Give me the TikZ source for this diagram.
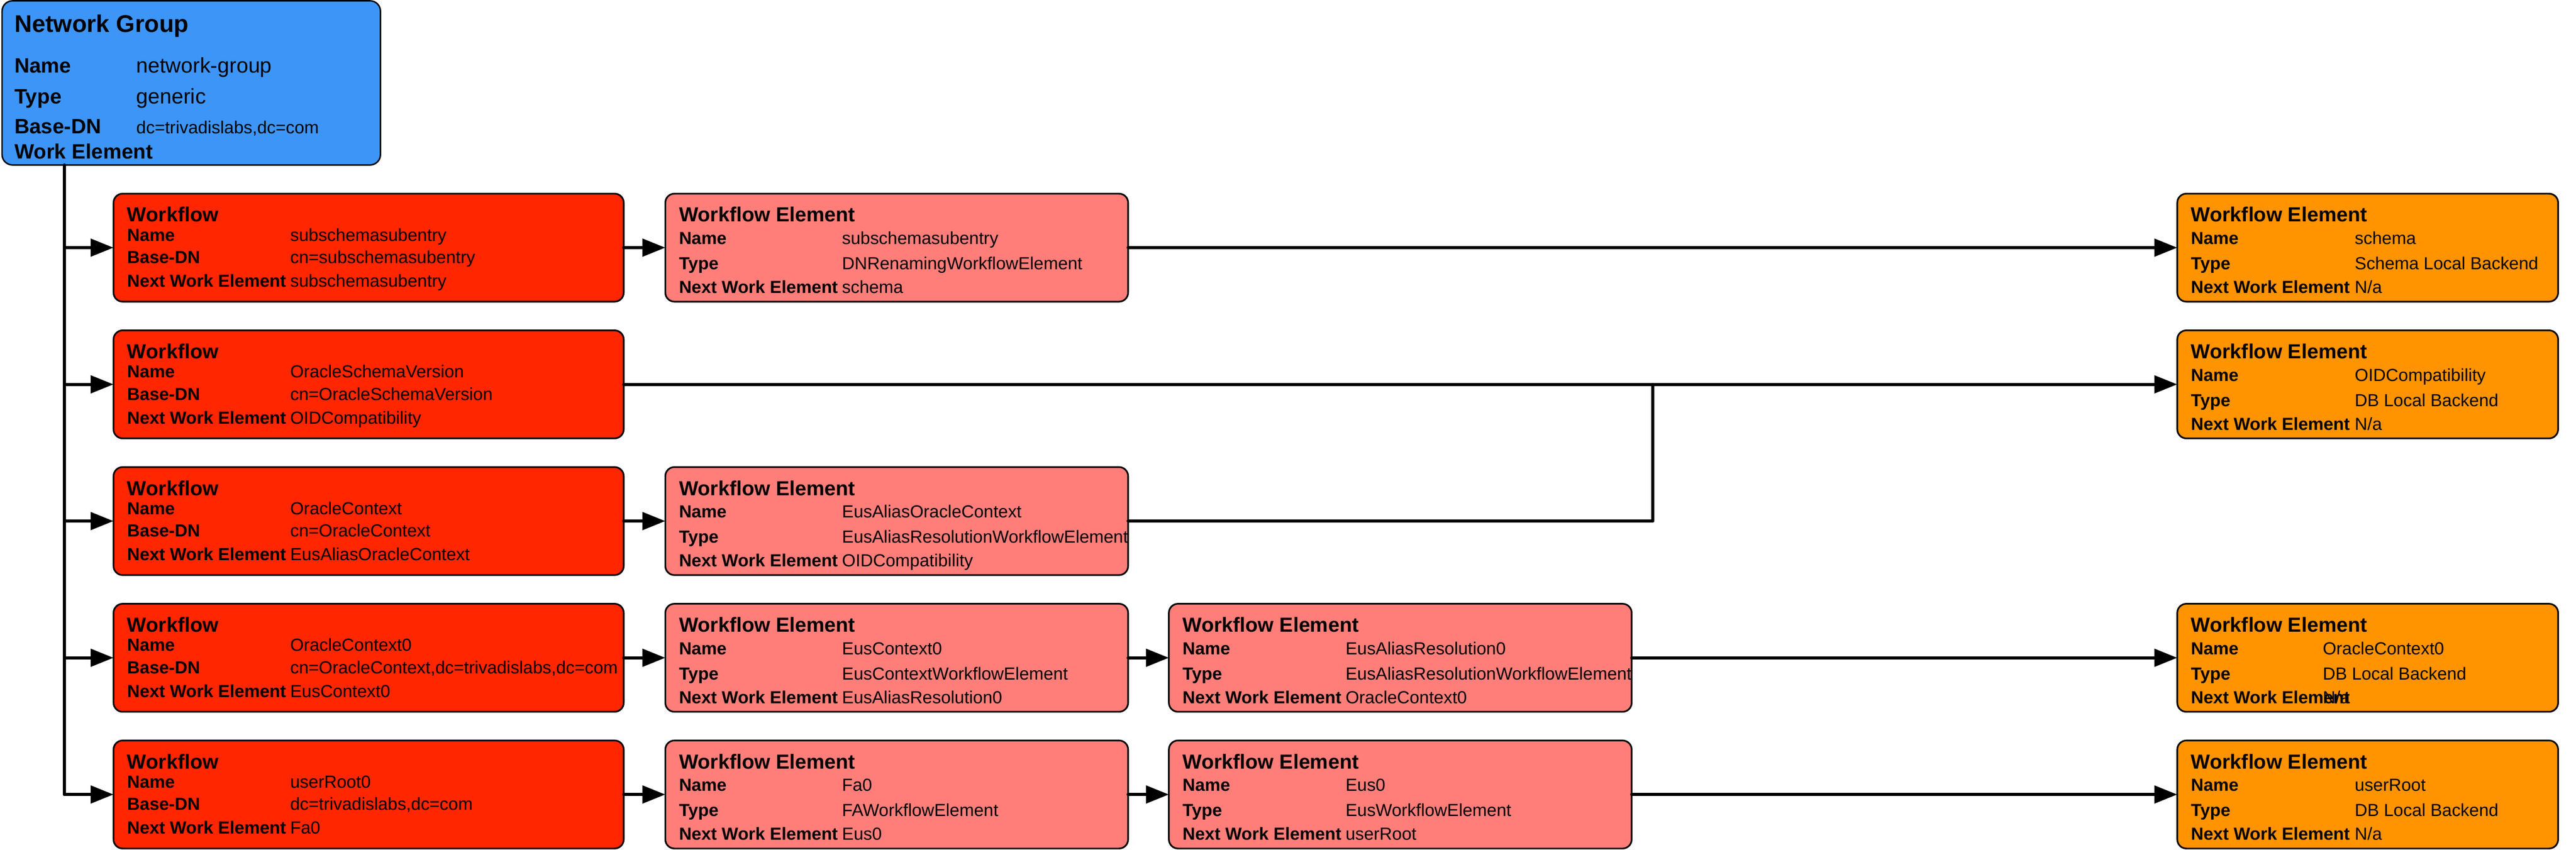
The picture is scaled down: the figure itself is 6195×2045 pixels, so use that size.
\documentclass[tikz,border=0pt]{standalone}
\usepackage{fontspec}
\setmainfont{Liberation Sans}
\usetikzlibrary{arrows.meta}
\definecolor{ngblue}{RGB}{61,149,247}
\definecolor{wfred}{RGB}{255,38,0}
\definecolor{wepink}{RGB}{255,126,121}
\definecolor{weorange}{RGB}{255,147,0}
\tikzset{
 box/.style={draw=black, line width=4pt, rounded corners=22pt, inner sep=0pt, outer sep=0pt, anchor=north west, minimum height=260pt},
 wfbox/.style={box, fill=wfred, minimum width=1227pt},
 pkbox/.style={box, fill=wepink, minimum width=1113pt},
 orbox/.style={box, fill=weorange, minimum width=916pt},
 txt/.style={inner sep=0pt, outer sep=0pt, anchor=base west},
 ttl/.style={txt, font=\fontsize{49}{59}\selectfont\bfseries},
 lab/.style={txt, font=\fontsize{42}{50}\selectfont\bfseries},
 val/.style={txt, font=\fontsize{42}{50}\selectfont},
 conn/.style={line width=7.5pt, line cap=round, line join=round},
 arr/.style={conn, -{Triangle[length=55pt,width=42pt]}},
}
\newcommand\wtitle[2]{\node[ttl] (#1-t) at ([shift={(33,68)}]#1.north west) {#2};}
\newcommand\wrow[6]{%
 \node[lab] (#1-l#2) at ([shift={(33,#3)}]#1.north west) {#5};
 \node[val] (#1-v#2) at ([shift={(#4,#3)}]#1.north west) {#6};}
\newcommand\wfnode[6]{%
 \node[wfbox] (#1) at (#2,#3) {};
 \wtitle{#1}{Workflow}
 \wrow{#1}{1}{114}{425}{Name}{#4}
 \wrow{#1}{2}{168}{425}{Base-DN}{#5}
 \wrow{#1}{3}{225}{425}{Next Work Element}{#6}}
\newcommand\wenode[8]{%
 \node[#2] (#1) at (#3,#4) {};
 \wtitle{#1}{Workflow Element}
 \wrow{#1}{1}{122}{#8}{Name}{#5}
 \wrow{#1}{2}{183}{#8}{Type}{#6}
 \wrow{#1}{3}{240}{#8}{Next Work Element}{#7}}
\begin{document}
\begin{tikzpicture}[x=1pt,y=-1pt]
\useasboundingbox (0,0) rectangle (6195,2045);
% network group
\node[box, fill=ngblue, minimum width=910pt, minimum height=395pt, line width=3.5pt, rounded corners=25pt] (ng) at (5,2) {};
\node[txt, font=\fontsize{58}{70}\selectfont\bfseries] (ng-t) at (35,78) {Network Group};
\node[txt, font=\fontsize{50}{60}\selectfont\bfseries] (ng-l1) at (35,175) {Name};
\node[txt, font=\fontsize{50}{60}\selectfont\bfseries] (ng-l2) at (35,250) {Type};
\node[txt, font=\fontsize{50}{60}\selectfont\bfseries] (ng-l3) at (35,321) {Base-DN};
\node[txt, font=\fontsize{50}{60}\selectfont\bfseries] (ng-l4) at (35,382) {Work Element};
\node[txt, font=\fontsize{51}{61}\selectfont] (ng-v1) at (328,175) {network-group};
\node[txt, font=\fontsize{51}{61}\selectfont] (ng-v2) at (328,250) {generic};
\node[txt, font=\fontsize{42}{50}\selectfont] (ng-v3) at (328,321) {dc=trivadislabs,dc=com};
% row 1
\wfnode{wf1}{273}{466}{subschemasubentry}{cn=subschemasubentry}{subschemasubentry}
\wenode{pa1}{pkbox}{1600}{466}{subschemasubentry}{DNRenamingWorkflowElement}{schema}{425}
\wenode{or1}{orbox}{5236}{466}{schema}{Schema Local Backend}{N/a}{427}
% row 2
\wfnode{wf2}{273}{795}{OracleSchemaVersion}{cn=OracleSchemaVersion}{OIDCompatibility}
\wenode{or2}{orbox}{5236}{795}{OIDCompatibility}{DB Local Backend}{N/a}{427}
% row 3
\wfnode{wf3}{273}{1124}{OracleContext}{cn=OracleContext}{EusAliasOracleContext}
\wenode{pa3}{pkbox}{1600}{1124}{EusAliasOracleContext}{EusAliasResolutionWorkflowElement}{OIDCompatibility}{425}
% row 4
\wfnode{wf4}{273}{1453}{OracleContext0}{cn=OracleContext,dc=trivadislabs,dc=com}{EusContext0}
\wenode{pa4}{pkbox}{1600}{1453}{EusContext0}{EusContextWorkflowElement}{EusAliasResolution0}{425}
\wenode{pb4}{pkbox}{2811}{1453}{EusAliasResolution0}{EusAliasResolutionWorkflowElement}{OracleContext0}{425}
\wenode{or4}{orbox}{5236}{1453}{OracleContext0}{DB Local Backend}{N/a}{350}
% row 5
\wfnode{wf5}{273}{1782}{userRoot0}{dc=trivadislabs,dc=com}{Fa0}
\wenode{pa5}{pkbox}{1600}{1782}{Fa0}{FAWorkflowElement}{Eus0}{425}
\wenode{pb5}{pkbox}{2811}{1782}{Eus0}{EusWorkflowElement}{userRoot}{425}
\wenode{or5}{orbox}{5236}{1782}{userRoot}{DB Local Backend}{N/a}{427}
% trunk
\coordinate (tb) at (155,1912);
\coordinate (jx) at (3975,925);
\draw[conn] (ng.south -| tb) -- (tb);
\foreach \r in {1,...,5} \draw[arr] (wf\r.west -| tb) -- (wf\r.west);
% connectors
\draw[arr] (wf1.east) -- (pa1.west);
\draw[arr] (pa1.east) -- (or1.west);
\draw[arr] (wf2.east) -- (or2.west);
\draw[arr] (wf3.east) -- (pa3.west);
\draw[conn] (pa3.east) -- (pa3.east -| jx) -- (jx |- wf2.east);
\draw[arr] (wf4.east) -- (pa4.west);
\draw[arr] (pa4.east) -- (pb4.west);
\draw[arr] (pb4.east) -- (or4.west);
\draw[arr] (wf5.east) -- (pa5.west);
\draw[arr] (pa5.east) -- (pb5.west);
\draw[arr] (pb5.east) -- (or5.west);
\end{tikzpicture}
\end{document}
